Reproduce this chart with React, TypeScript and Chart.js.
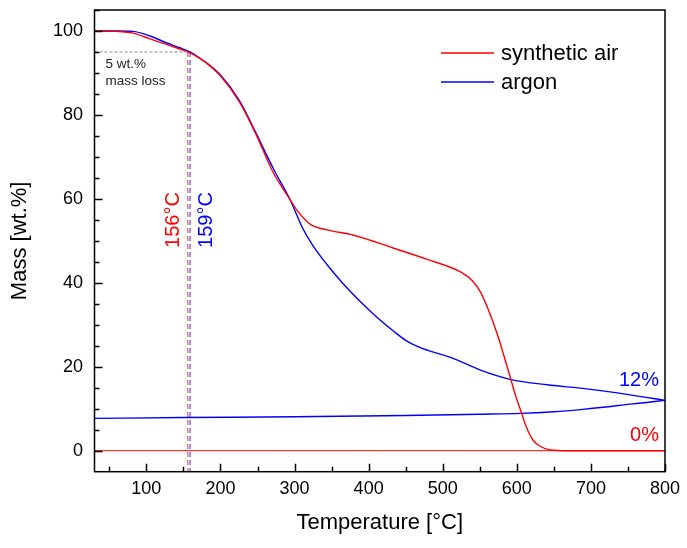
import { useEffect, useRef } from 'react';
import { Chart, registerables } from 'chart.js';
Chart.register(...registerables);

const airTemp = [30, 60, 82, 105, 127, 145, 156, 170, 185, 200, 226, 249, 270, 294, 305, 321, 344, 379, 433, 479, 524, 540, 551, 562, 573, 582, 591, 598, 605, 613, 622, 632, 645, 670, 800];
const airMass = [100, 99.9, 99.5, 98.1, 96.8, 95.7, 95.0, 93.7, 91.8, 89.3, 83, 75, 66.7, 59.8, 56.9, 54.0, 52.6, 51.4, 48.3, 45.6, 42.6, 40.5, 37.8, 33.4, 28.1, 23, 17.6, 13.3, 9.7, 5.6, 2.5, 1.0, 0.2, 0, 0];
const airCoolTemp = [800, 30];
const airCoolMass = [0, 0];

const argonTemp = [30, 60, 82, 105, 127, 145, 159, 170, 185, 200, 226, 249, 272, 294, 311, 325, 344, 365, 389, 410, 433, 450, 465, 480, 514, 551, 591, 641, 686, 753, 800];
const argonMass = [100, 100, 99.9, 98.8, 97.2, 96.0, 95.0, 93.8, 91.9, 89.5, 83.3, 75.3, 67.0, 59.8, 53.0, 48.8, 44.3, 39.9, 35.5, 32.0, 28.6, 26.3, 24.9, 23.9, 22.0, 19.2, 17.0, 15.7, 14.9, 13.3, 12.0];
const argonCoolTemp = [800, 775, 753, 720, 686, 650, 605, 550, 450, 300, 150, 30];
const argonCoolMass = [12.0, 11.5, 11.1, 10.4, 9.8, 9.3, 8.9, 8.7, 8.4, 8.1, 7.9, 7.7];

const xTickValues = [100, 200, 300, 400, 500, 600, 700, 800];
const yTickValues = [0, 20, 40, 60, 80, 100];
const seriesNames = ['synthetic air', 'argon'];
const onsetAir = 156;
const onsetArgon = 159;
const lossLevel = 95;
const residueLabels = ['0%', '12%'];

const RED = '#ff0000';
const BLUE = '#0000ff';
const FONT = '"Liberation Sans", Arial, sans-serif';

const pts = (xs: number[], ys: number[]) => xs.map((x, i) => ({ x, y: ys[i] }));

const decorPlugin = {
  id: 'decor',
  afterDraw(chart: any) {
    const ctx = chart.ctx as CanvasRenderingContext2D;
    const xs = chart.scales.x;
    const ys = chart.scales.y;
    const { left, right, top, bottom } = chart.chartArea;
    ctx.save();
    ctx.strokeStyle = '#000';
    ctx.lineWidth = 1.5;
    ctx.beginPath();
    for (let v = 50; v <= 800; v += 50) {
      const px = Math.round(xs.getPixelForValue(v)) + 0.5;
      const len = v % 100 === 0 ? 8 : 5;
      ctx.moveTo(px, bottom);
      ctx.lineTo(px, bottom - len);
    }
    for (let v = 0; v <= 105; v += 5) {
      const py = Math.round(ys.getPixelForValue(v)) + 0.5;
      const len = v % 20 === 0 ? 8 : 5;
      ctx.moveTo(left, py);
      ctx.lineTo(left + len, py);
    }
    ctx.stroke();
    ctx.strokeRect(left, top, right - left, bottom - top);

    // legend
    const legendItems = [
      { label: seriesNames[0], color: RED, y: 53 },
      { label: seriesNames[1], color: BLUE, y: 82 },
    ];
    ctx.font = `22px ${FONT}`;
    ctx.textBaseline = 'middle';
    ctx.textAlign = 'left';
    for (const it of legendItems) {
      ctx.strokeStyle = it.color;
      ctx.lineWidth = 1.3;
      ctx.beginPath();
      ctx.moveTo(441, it.y);
      ctx.lineTo(494, it.y);
      ctx.stroke();
      ctx.fillStyle = '#000';
      ctx.fillText(it.label, 501, it.y + 1);
    }

    // 5 wt.% annotation
    ctx.fillStyle = '#222';
    ctx.font = `13.5px ${FONT}`;
    ctx.fillText('5 wt.%', left + 11, 64);
    ctx.fillText('mass loss', left + 11, 81);

    // onset labels
    ctx.font = `20px ${FONT}`;
    ctx.textAlign = 'center';
    const drawRot = (text: string, x: number, y: number, color: string) => {
      ctx.save();
      ctx.translate(x, y);
      ctx.rotate(-Math.PI / 2);
      ctx.fillStyle = color;
      ctx.fillText(text, 0, 0);
      ctx.restore();
    };
    drawRot(`${onsetAir}°C`, xs.getPixelForValue(onsetAir) - 14.5, 220, RED);
    drawRot(`${onsetArgon}°C`, xs.getPixelForValue(onsetArgon) + 16, 220, BLUE);

    // residue labels
    ctx.textAlign = 'right';
    ctx.fillStyle = BLUE;
    ctx.fillText(residueLabels[1], right - 6, ys.getPixelForValue(16.8));
    ctx.fillStyle = RED;
    ctx.fillText(residueLabels[0], right - 6, ys.getPixelForValue(3.6));
    ctx.restore();
  },
};

export default function App() {
  const ref = useRef<HTMLCanvasElement | null>(null);
  useEffect(() => {
    document.body.style.margin = '0';
    if (!ref.current) return;
    const line = { pointRadius: 0, borderWidth: 1.4, fill: false };
    const chart = new Chart(ref.current, {
      type: 'line',
      data: {
        datasets: [
          { ...line, label: 'grey', data: pts([30, onsetAir], [lossLevel, lossLevel]), borderColor: '#8a8a8a', borderWidth: 1, borderDash: [3, 2] },
          { ...line, label: seriesNames[0], data: pts(airTemp, airMass), borderColor: RED, cubicInterpolationMode: 'monotone' },
          { ...line, label: 'airCool', data: pts(airCoolTemp, airCoolMass), borderColor: RED, borderWidth: 1 },
          { ...line, label: seriesNames[1], data: pts(argonTemp, argonMass), borderColor: BLUE, cubicInterpolationMode: 'monotone' },
          { ...line, label: 'argonCool', data: pts(argonCoolTemp.slice().reverse(), argonCoolMass.slice().reverse()), borderColor: BLUE, cubicInterpolationMode: 'monotone' },
          { ...line, label: 'vAir', data: pts([onsetAir, onsetAir], [lossLevel, -5]), borderColor: '#ff7070', borderWidth: 1.5, borderDash: [5, 3] },
          { ...line, label: 'vArgon', data: pts([onsetArgon, onsetArgon], [lossLevel, -5]), borderColor: '#7070ff', borderWidth: 1.5, borderDash: [5, 3] },
        ],
      } as any,
      options: {
        animation: false,
        responsive: true,
        maintainAspectRatio: false,
        layout: { padding: { top: 10, right: 22, left: 0, bottom: 0 } },
        plugins: { legend: { display: false }, tooltip: { enabled: false } },
        scales: {
          x: {
            type: 'linear',
            min: 30,
            max: 800,
            afterBuildTicks: (s: any) => { s.ticks = xTickValues.map((v) => ({ value: v })); },
            afterFit: (s: any) => { s.height = 76.3; s.paddingLeft = 0; s.paddingRight = 0; },
            grid: { display: false, drawTicks: false },
            border: { display: false },
            ticks: { color: '#000', font: { family: FONT, size: 18 }, padding: 7, maxRotation: 0, autoSkip: false },
            title: { display: true, text: 'Temperature [°C]', color: '#000', font: { family: FONT, size: 22 }, padding: { bottom: 11.8, top: 0 } },
          },
          y: {
            type: 'linear',
            min: -5,
            max: 105,
            afterBuildTicks: (s: any) => { s.ticks = yTickValues.map((v) => ({ value: v })); },
            afterFit: (s: any) => { s.width = 94.5; s.paddingTop = 0; s.paddingBottom = 0; },
            grid: { display: false, drawTicks: false },
            border: { display: false },
            ticks: { color: '#000', font: { family: FONT, size: 18 }, padding: 11.5, autoSkip: false },
            title: { display: true, text: 'Mass [wt.%]', color: '#000', font: { family: FONT, size: 22 }, padding: { top: 6.8, bottom: 0 } },
          },
        },
      } as any,
      plugins: [decorPlugin],
    });
    return () => chart.destroy();
  }, []);
  return (
    <div style={{ width: 687, height: 548, position: 'relative' }}>
      <canvas ref={ref} />
    </div>
  );
}
